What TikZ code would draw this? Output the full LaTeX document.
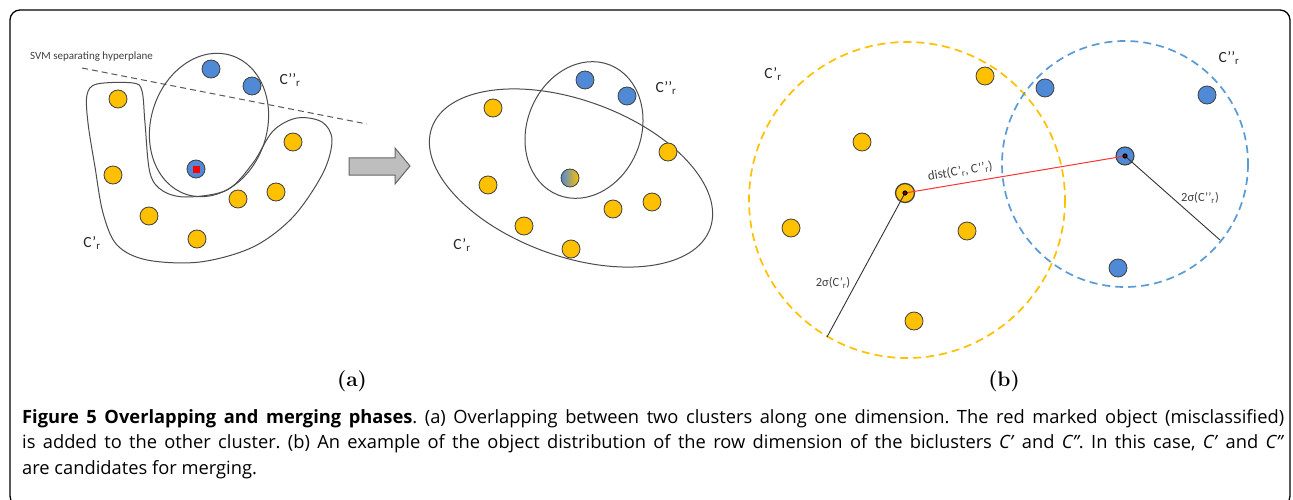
\documentclass[tikz,border=0pt]{standalone}
\usepackage{fontspec}
\newfontfamily\capfont{Open Sans}
\newfontfamily\lblfont{Carlito}
\definecolor{dotyellow}{RGB}{255,192,0}
\definecolor{dotblue}{RGB}{80,138,214}
\definecolor{dashyellow}{RGB}{255,192,0}
\definecolor{dashblue}{RGB}{91,155,213}
\definecolor{arrowgray}{RGB}{190,190,190}
\newcommand\Cp{C’\textsubscript{r}}
\newcommand\Cpp{C’’\textsubscript{r}}
\frenchspacing
\begin{document}
\begin{tikzpicture}[x=1pt,y=-1pt,
  dot/.style={circle, draw=black!75, line width=0.8pt, minimum size=18pt, inner sep=0pt},
  ydot/.style={dot, fill=dotyellow},
  bdot/.style={dot, fill=dotblue},
  lbl/.style={font=\lblfont\fontsize{15.5}{15.5}\selectfont, text=black!85, inner sep=0pt},
  small/.style={font=\lblfont\fontsize{11}{11}\selectfont, text=black!75, inner sep=0pt},
  clus/.style={draw=black!70, line width=1pt},
  radline/.style={draw=black!80, line width=0.9pt},
  sub/.style={font=\fontsize{21}{21}\selectfont\rmfamily\bfseries, inner sep=0pt}
]
\useasboundingbox (0,0) rectangle (1293,500);
\fill[white] (0,0) rectangle (1293,500);
\draw[line width=1.3pt, rounded corners=10pt] (10,10) rectangle (1290,506);

% ---------- panel (a), left ----------
\node[small, anchor=west] (svm) at (30,57) {SVM separating hyperplane};
\coordinate (h1) at (82,68);
\coordinate (h2) at (367,124);
\draw[black!65, line width=1pt, dash pattern=on 6pt off 4pt] (h1) -- (h2);

\draw[clus] plot[smooth cycle, tension=0.55] coordinates {
  (87,95) (97,84) (133,83) (142,91) (145,123) (150,173) (163,191) (187,197)
  (227,190) (253,163) (273,131) (297,118) (322,122) (332,140) (323,173)
  (293,217) (253,247) (200,262) (147,260) (117,245) (103,213) (95,167) (88,123)};
\draw[clus, rotate around={-18:(209,125)}] (209,125) ellipse [x radius=58, y radius=73];

\node[bdot] (la1) at (211,69) {};
\node[bdot] (la2) at (252,86) {};
\node[bdot] (lred) at (196,169) {};
\fill[red] ([shift={(-3.5,-3.5)}]lred.center) rectangle ([shift={(3.5,3.5)}]lred.center);
\foreach \n/\p in {y1/{(118,99)}, y2/{(113,175)}, y3/{(149,216)}, y4/{(197,239)},
                   y5/{(238,199)}, y6/{(276,192)}, y7/{(293,142)}}
  \node[ydot] (l\n) at \p {};
\node[lbl] (lcpp) at (290,80) {\Cpp};
\node[lbl] (lcp) at (92,243) {\Cp};

% block arrow
\draw[fill=arrowgray, draw=black!60, line width=1pt]
  (349,158) -- (395,158) -- (395,148) -- (410,166) -- (395,184) -- (395,175) -- (349,175) -- cycle;

% ---------- panel (a), right ----------
\draw[clus, rotate around={-20:(571,178)}] (571,178) ellipse [x radius=148, y radius=78];
\draw[clus, rotate around={-22:(584,130)}] (584,130) ellipse [x radius=57, y radius=70];
\node[bdot] (ma1) at (585,80) {};
\node[bdot] (ma2) at (627,96) {};
\foreach \n/\p in {y1/{(493,108)}, y2/{(488,185)}, y3/{(524,226)}, y4/{(571,249)},
                   y5/{(613,209)}, y6/{(652,202)}, y7/{(668,152)}}
  \node[ydot] (m\n) at \p {};
\shade[left color=dotblue, right color=dotyellow] (570,178) circle (9);
\node[dot] (mgrad) at (570,178) {};
\node[lbl] (mcpp) at (666,88) {\Cpp};
\node[lbl] (mcp) at (462,245) {\Cp};

\node[sub] (suba) at (352,381) {(a)};

% ---------- panel (b) ----------
\coordinate (yc) at (907,200);
\coordinate (bc) at (1125,164);
\draw[dashyellow, line width=1.7pt, dash pattern=on 8pt off 5pt] (yc) circle (158);
\draw[dashblue, line width=1.7pt, dash pattern=on 8pt off 5pt] (bc) circle (123);

\foreach \n/\p in {y1/{(985,76)}, y2/{(862,142)}, y3/{(791,228)}, y4/{(967,231)}, y5/{(914,321)}}
  \node[ydot] (r\n) at \p {};
\foreach \n/\p in {b1/{(1045,88)}, b2/{(1207,95)}, b3/{(1118,268)}}
  \node[bdot] (r\n) at \p {};

\node[ydot, line width=1.3pt, minimum size=19pt] (ycen) at (905,193) {};
\node[bdot, line width=1.1pt, minimum size=18pt] (bcen) at (1125,156) {};

\coordinate (yr) at (827,337);
\coordinate (br) at (1220,240);
\draw[radline] (ycen.center) -- (yr);
\draw[radline] (bcen.center) -- (br);
\draw[red!80, line width=1pt] (ycen.center) -- node[small, font=\lblfont\fontsize{13}{13}\selectfont, above=6pt, sloped, pos=0.26] {dist(C’\textsubscript{r}, C’’\textsubscript{r})} (bcen.center);
\fill[black] (ycen.center) circle (2.6);
\fill[black] (bcen.center) circle (2.6);
\fill[red] (ycen.center) circle (0.9);
\fill[red] (bcen.center) circle (0.9);

\node[small, font=\lblfont\fontsize{12.5}{12.5}\selectfont] (ys) at (833,283) {2σ(\Cp)};
\node[small, font=\lblfont\fontsize{12.5}{12.5}\selectfont] (bs) at (1200,198) {2σ(\Cpp)};
\node[lbl] (rcp) at (773,74) {\Cp};
\node[lbl] (rcpp) at (1229,58) {\Cpp};

\node[sub] (subb) at (1004,381) {(b)};

% ---------- caption ----------
\node[anchor=north west, inner sep=0pt, text width=1262pt, align=justify,
      font=\capfont\fontsize{18.3}{25.5}\selectfont] (cap) at (22,409)
{\textbf{Figure 5 Overlapping and merging phases}. (a) Overlapping between two clusters along one dimension. The red marked object (misclassified)\linebreak
is added to the other cluster. (b) An example of the object distribution of the row dimension of the biclusters \textit{C’} and \textit{C”}. In this case, \textit{C’} and \textit{C”}\linebreak
are candidates for merging.};
\end{tikzpicture}
\end{document}
